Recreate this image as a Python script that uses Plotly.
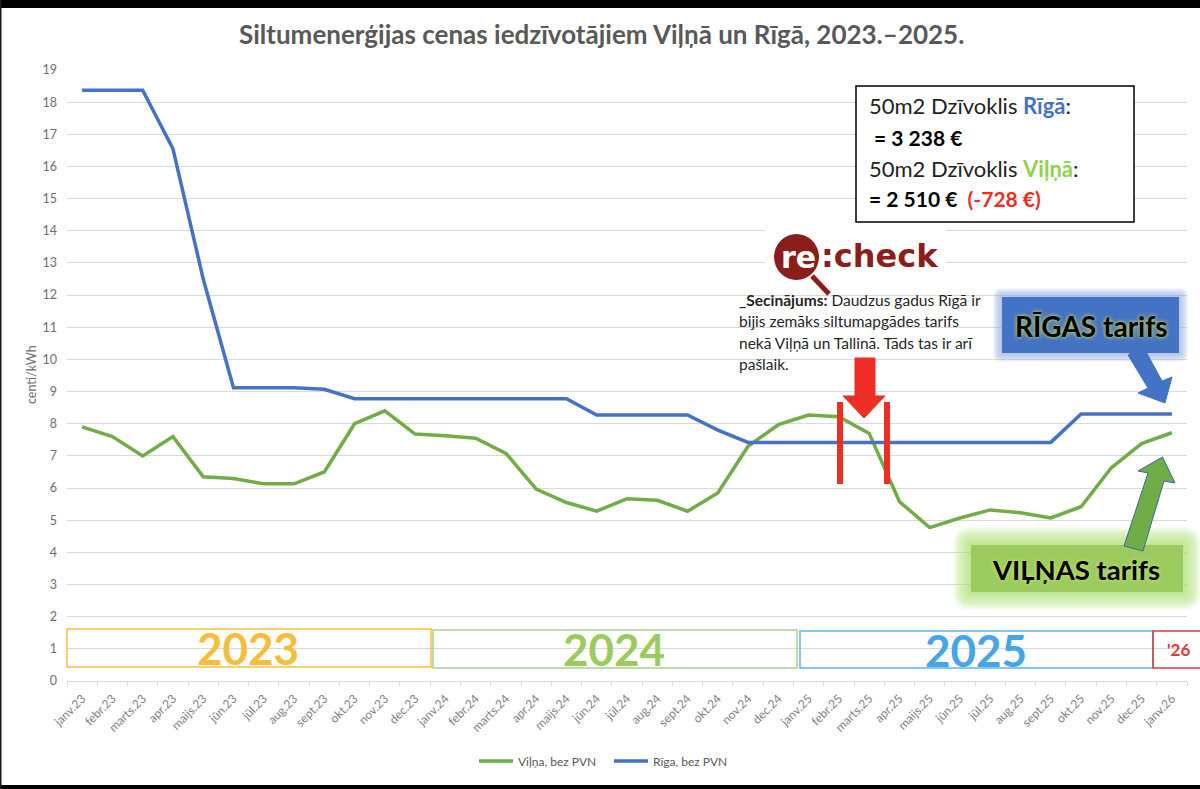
import plotly.graph_objects as go

# Monthly prices, cents/kWh
months = [
    "janv.23", "febr.23", "marts.23", "apr.23", "maijs.23", "jūn.23", "jūl.23", "aug.23", "sept.23", "okt.23", "nov.23", "dec.23",
    "janv.24", "febr.24", "marts.24", "apr.24", "maijs.24", "jūn.24", "jūl.24", "aug.24", "sept.24", "okt.24", "nov.24", "dec.24",
    "janv.25", "febr.25", "marts.25", "apr.25", "maijs.25", "jūn.25", "jūl.25", "aug.25", "sept.25", "okt.25", "nov.25", "dec.25",
    "janv.26",
]
vilna = [
    7.9, 7.6, 7.0, 7.6, 6.35, 6.3, 6.13, 6.13, 6.5, 8.0, 8.4, 7.68,
    7.63, 7.55, 7.08, 5.97, 5.55, 5.28, 5.67, 5.62, 5.28, 5.85, 7.3, 7.97,
    8.27, 8.22, 7.7, 5.58, 4.77, 5.07, 5.32, 5.23, 5.07, 5.42, 6.63, 7.38,
    7.72,
]
riga = [
    18.37, 18.37, 18.37, 16.55, 12.5, 9.12, 9.12, 9.12, 9.07, 8.78, 8.78, 8.78,
    8.78, 8.78, 8.78, 8.78, 8.78, 8.27, 8.27, 8.27, 8.27, 7.8, 7.42, 7.42,
    7.42, 7.42, 7.42, 7.42, 7.42, 7.42, 7.42, 7.42, 7.42, 8.3, 8.3, 8.3,
    8.3,
]
y_ticks = list(range(0, 20))

# plot area in pixels, overlays below are placed in pixels too
L, R, T, B = 67, 1187, 70, 681
W, H = 1200, 789


def xp(px):
    return (px - L) / (R - L)


def yp(py):
    return (B - py) / (B - T)


def rect(x0, y0, x1, y1, fill=None, line=None, width=1, opacity=1):
    return dict(type="rect", xref="paper", yref="paper", x0=xp(x0), x1=xp(x1), y0=yp(y0), y1=yp(y1),
                fillcolor=fill or "rgba(0,0,0,0)", line=dict(color=line or "rgba(0,0,0,0)", width=width if line else 0),
                opacity=opacity)


def poly(points, fill, line=None):
    d = "M " + " L ".join(f"{xp(x):.5f} {yp(y):.5f}" for x, y in points) + " Z"
    return dict(type="path", xref="paper", yref="paper", path=d, fillcolor=fill,
                line=dict(color=line or fill, width=1))


# soft edge: stack of rounded rects, each adds a little colour
def glow(x0, y0, x1, y1, spread, color, alpha):
    out = []
    for g in range(spread, 0, -1):
        a, b, c, d = x0 - g, y0 - g, x1 + g, y1 + g
        p = (f"M {xp(a + g)} {yp(b)} L {xp(c - g)} {yp(b)} Q {xp(c)} {yp(b)} {xp(c)} {yp(b + g)} "
             f"L {xp(c)} {yp(d - g)} Q {xp(c)} {yp(d)} {xp(c - g)} {yp(d)} "
             f"L {xp(a + g)} {yp(d)} Q {xp(a)} {yp(d)} {xp(a)} {yp(d - g)} "
             f"L {xp(a)} {yp(b + g)} Q {xp(a)} {yp(b)} {xp(a + g)} {yp(b)} Z")
        out.append(dict(type="path", xref="paper", yref="paper", path=p, fillcolor=color,
                        line=dict(width=0), opacity=alpha))
    return out


def text(px, py, s, size, color="#000000", anchor="left", family="Lato", angle=0, **kw):
    return dict(xref="paper", yref="paper", x=xp(px), y=yp(py), text=s, showarrow=False, xanchor=anchor,
                yanchor="middle", align="left", textangle=angle, font=dict(size=size, color=color, family=family, **kw))


fig = go.Figure()
fig.add_trace(go.Scatter(x=months, y=vilna, mode="lines", name="Viļņa, bez PVN", line=dict(color="#70AD47", width=3.5)))
fig.add_trace(go.Scatter(x=months, y=riga, mode="lines", name="Rīga, bez PVN", line=dict(color="#4472C4", width=3.5)))

shapes = []

# picture frame
shapes.append(rect(0, 0, W, 8, fill="#000000"))
shapes.append(rect(0, 785, W, H, fill="#000000"))
shapes.append(rect(0, 0, 1.5, H, fill="#1a1a1a"))

# year bands
shapes.append(rect(67, 629, 431, 667, line="#F5C242", width=1.5))
shapes.append(rect(433, 630, 797, 668, line="#A9D18E", width=1.5))
shapes.append(rect(800, 631, 1153, 668, line="#5BB4EC", width=1.5))
shapes.append(rect(1153, 631, 1201, 668, line="#E0393A", width=1.5))

# info box
shapes.append(rect(856, 86, 1134, 222, fill="#FFFFFF", line="#000000", width=1.5))

# logo
shapes.append(rect(765, 228, 946, 285, fill="#FFFFFF"))
shapes.append(dict(type="line", xref="paper", yref="paper", x0=xp(812), y0=yp(276), x1=xp(829), y1=yp(294),
                   line=dict(color="#8B1E1A", width=5)))
shapes.append(dict(type="circle", xref="paper", yref="paper", x0=xp(774), x1=xp(819), y0=yp(234), y1=yp(280),
                   fillcolor="#8B1E1A", line=dict(width=0)))

# red marker
shapes.append(rect(837, 402, 843, 484, fill="#EE2E24"))
shapes.append(rect(884, 402, 890, 484, fill="#EE2E24"))
shapes.append(poly([(855, 358), (875, 358), (875, 396), (885, 396), (864, 418), (843, 396), (855, 396)], "#EE2E24"))

# glow behind the two labels
shapes += glow(1002, 297, 1179, 353, 9, "#8FAEE8", 0.11)
shapes += glow(971, 545, 1183, 592, 18, "#B4E27A", 0.08)
shapes.append(rect(1002, 297, 1179, 353, fill="#4472C4"))
shapes.append(rect(971, 545, 1183, 592, fill="#9BCB5F"))

# label arrows
shapes.append(poly([(1128, 355), (1143, 346), (1162, 381), (1172, 377), (1165, 403), (1138, 393), (1148, 388)], "#4472C4"))
shapes.append(poly([(1124, 546), (1143, 551), (1164, 481), (1175, 483), (1162.5, 457), (1138, 471), (1148, 473)], "#70AD47", "#3F6797"))

annotations = [
    text(601, 34, "<b>Siltumenerģijas cenas iedzīvotājiem Viļņā un Rīgā, 2023.–2025.</b>", 26, "#595959", "center"),
    text(31, 375, "centi/kWh", 12.5, "#6e6e6e", "center", angle=-90),
    text(248, 648, "<b>2023</b>", 44, "#F4BE3A", "center"),
    text(614, 649, "<b>2024</b>", 44, "#9BCB5F", "center"),
    text(976, 650, "<b>2025</b>", 44, "#45A5E5", "center"),
    text(1178, 649, "<b>'26</b>", 17, "#E0393A", "center"),
    text(867, 106, '50m2 Dzīvoklis <b><span style="color:#4472C4">Rīgā</span></b>:', 22, "#222222"),
    text(872, 138, "<b>= 3 238 €</b>", 21),
    text(867, 168, '50m2 Dzīvoklis <b><span style="color:#92D050">Viļņā</span></b>:', 22, "#222222"),
    text(867, 198, '<b>= 2 510 €  <span style="color:#EE2E24">(-728 €)</span></b>', 21),
    text(779, 257, "<b>re</b>", 30, "#FFFFFF", family="DejaVu Sans"),
    text(819, 256, "<b>:check</b>", 32, "#8B1E1A", family="DejaVu Sans"),
    text(737, 300, "<b>_Secinājums:</b> Daudzus gadus Rīgā ir", 15.5, "#262626"),
    text(737, 321, "bijis zemāks siltumapgādes tarifs", 15.5, "#262626"),
    text(737, 343, "nekā Viļņā un Tallinā. Tāds tas ir arī", 15.5, "#262626"),
    text(737, 364, "pašlaik.", 15.5, "#262626"),
    text(1091, 326, "<b>RĪGAS tarifs</b>", 28, "#000000", "center", shadow="0 0 5px #B5CC6A, 0 0 3px #B5CC6A"),
    text(1076, 569, "<b>VIĻŅAS tarifs</b>", 27.5, "#000000", "center", shadow="0 0 4px #D6E66A"),
]

fig.update_layout(
    width=W, height=H,
    autosize=False,
    margin=dict(l=L, r=W - R, t=T, b=H - B),
    paper_bgcolor="#FFFFFF",
    plot_bgcolor="#FFFFFF",
    font=dict(family="Lato", color="#595959", size=11),
    shapes=shapes,
    annotations=annotations,
    showlegend=True,
    legend=dict(orientation="h", x=xp(474), xanchor="left", y=yp(761), yanchor="middle",
                font=dict(size=12, color="#595959"), itemwidth=34, entrywidth=86, entrywidthmode="pixels"),
)
fig.update_xaxes(type="category", categoryorder="array", categoryarray=months, range=[-0.5, 36.5],
                 tickson="boundaries", ticks="outside", ticklen=4, tickcolor="#d9d9d9", tickangle=-45,
                 showgrid=False, showline=True, linecolor="#d9d9d9", tickfont=dict(size=12, color="#7f7f7f"),
                 ticklabelstandoff=5)
fig.update_yaxes(range=[0, 19], tickvals=y_ticks, showgrid=True, gridcolor="#d9d9d9", gridwidth=1.3, zeroline=False,
                 tickfont=dict(size=12.5, color="#6e6e6e"), ticks="", ticklabelstandoff=9)

# browser default body margin would push the figure 8px off
fig.write_html("out.html", config=dict(displayModeBar=False), post_script="document.body.style.margin='0';")
